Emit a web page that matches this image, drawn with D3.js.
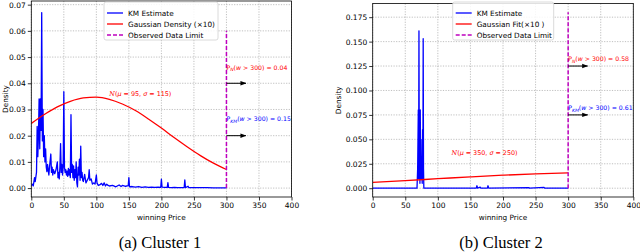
<!DOCTYPE html>
<html>
<head>
<meta charset="utf-8">
<script src="https://cdn.jsdelivr.net/npm/d3@7"></script>
<style>
  body { margin: 0; background: #fff; }
  text { font-family: "DejaVu Sans", sans-serif; }
</style>
</head>
<body>
<div id="chart"></div>
<script>
// ---- data ----
var priceTicks = [0, 50, 100, 150, 200, 250, 300, 350, 400];
var densityTicks1 = [0, 0.01, 0.02, 0.03, 0.04, 0.05, 0.06, 0.07];
var densityTicks2 = [0, 0.025, 0.05, 0.075, 0.1, 0.125, 0.15, 0.175];

// cluster 1, KM estimate
var kmPrice1 = [0, 2, 3, 5, 6, 8, 9, 10, 11, 12, 13, 14, 15, 16, 17, 18, 19, 20, 21, 22,
    23, 24, 25, 26, 27, 28, 30, 31, 32, 33, 34, 36, 38, 40, 41, 42, 43, 44, 45, 46,
    47, 48, 49, 50, 51, 52, 53, 54, 55, 56, 57, 58, 59, 60, 61, 62, 63, 64, 65, 66,
    67, 68, 69, 70, 71, 72, 73, 74, 75, 76, 77, 78, 79, 80, 82, 84, 86, 88, 89, 90,
    92, 94, 96, 98, 100, 101, 103, 105, 108, 110, 112, 114, 116, 118, 120, 125, 130, 135, 138, 140,
    145, 149, 150, 151, 155, 160, 165, 170, 175, 180, 185, 190, 195, 199, 200, 201, 205, 209, 210, 211,
    215, 220, 225, 230, 235, 236, 237, 241, 242, 250, 260, 270, 280, 290, 300];
var kmDensity1 = [0.0010, 0.0015, 0.0008, 0.0040, 0.0025, 0.0060, 0.0235, 0.0120, 0.0200, 0.0340, 0.0150, 0.0340, 0.0220, 0.0670, 0.0180, 0.0300, 0.0120, 0.0200, 0.0100, 0.0150,
    0.0080, 0.0063, 0.0090, 0.0070, 0.0050, 0.0080, 0.0130, 0.0060, 0.0080, 0.0050, 0.0070, 0.0055, 0.0070, 0.0100, 0.0040, 0.0060, 0.0035, 0.0080, 0.0170, 0.0060,
    0.0090, 0.0050, 0.0080, 0.0368, 0.0080, 0.0060, 0.0070, 0.0050, 0.0065, 0.0045, 0.0075, 0.0050, 0.0070, 0.0040, 0.0280, 0.0060, 0.0090, 0.0040, 0.0085, 0.0030,
    0.0070, 0.0040, 0.0100, 0.0020, 0.0005, 0.0080, 0.0050, 0.0110, 0.0030, 0.0160, 0.0040, 0.0060, 0.0030, 0.0025, 0.0052, 0.0020, 0.0030, 0.0040, 0.0070, 0.0030,
    0.0035, 0.0015, 0.0020, 0.0015, 0.0050, 0.0020, 0.0010, 0.0012, 0.0018, 0.0010, 0.0020, 0.0008, 0.0015, 0.0010, 0.0008, 0.0010, 0.0005, 0.0012, 0.0006, 0.0010,
    0.0007, 0.0009, 0.0040, 0.0005, 0.0006, 0.0004, 0.0006, 0.0003, 0.0005, 0.0003, 0.0004, 0.0003, 0.0004, 0.0003, 0.0034, 0.0004, 0.0003, 0.0003, 0.0021, 0.0003,
    0.0002, 0.0003, 0.0002, 0.0002, 0.0002, 0.0031, 0.0002, 0.0007, 0.0002, 0.0002, 0.0002, 0.0002, 0.0001, 0.0001, 0.0001];

// cluster 1, gaussian (x10)
var gaussPrice1 = [0, 20, 40, 60, 80, 100, 120, 140, 160, 180, 200, 220, 240, 260, 280, 300];
var gaussDensity1 = [0.0247, 0.0281, 0.0310, 0.0331, 0.0344, 0.0347, 0.0339, 0.0321, 0.0296, 0.0264,
    0.0229, 0.0192, 0.0157, 0.0124, 0.0095, 0.0071];

// cluster 2, KM estimate
var kmPrice2 = [0, 68, 69, 70, 70.5, 71, 71.5, 72, 72.5, 73, 73.5, 74, 74.5, 75, 76, 76.5, 77, 77.5, 78, 78.5,
    159, 160, 161, 165, 166, 176, 177, 178, 240, 241, 263, 264, 300];
var kmDensity2 = [0, 0, 0.02, 0.08, 0.01, 0.161, 0.03, 0.05, 0.005, 0.08, 0.02, 0.05, 0.01, 0.03, 0.005, 0.06, 0.01, 0.153, 0.02, 0,
    0, 0.0025, 0, 0.001, 0, 0, 0.0025, 0, 0.0005, 0, 0.0008, 0, 0];

// cluster 2, gaussian (x10)
var gaussPrice2 = [0, 50, 100, 150, 200, 250, 300];
var gaussDensity2 = [0.0060, 0.0078, 0.0097, 0.0116, 0.0133, 0.0147, 0.0156];

var limitPrice = 300;
var limitTop = [0.06, 0.18];
var probGauss = ["0.04", "0.58"];
var probKM = ["0.15", "0.61"];
var legendLabels1 = ["KM Estimate", "Gaussian Density (\u00d710)", "Observed Data Limit"];
var legendLabels2 = ["KM Estimate", "Gaussian Fit(\u00d710 )", "Observed Data Limit"];
var gaussLabels = [["95", "115"], ["350", "250"]];
var captions = ["(a) Cluster 1", "(b) Cluster 2"];

var svg = d3.select("#chart")
        .append("svg")
        .attr("width", 640)
        .attr("height", 252)
        .style("background-color", "#fff");

svg.append("defs").append("marker")
        .attr("id", "arrow")
        .attr("viewBox", "0 -3 6 6")
        .attr("refX", 5.5).attr("refY", 0)
        .attr("markerWidth", 6).attr("markerHeight", 6)
        .attr("markerUnits", "userSpaceOnUse")
        .attr("orient", "auto")
        .append("path")
        .attr("d", "M0,-2.2L6,0L0,2.2Z")
        .attr("fill", "#000");

var panels = [
    {left: 31.3, right: 291.5, top: 1, bottom: 197, yDomain: [-0.0034, 0.0714],
     yTicks: densityTicks1, yFmt: ".2f", km: [kmPrice1, kmDensity1], gauss: [gaussPrice1, gaussDensity1],
     limitTop: limitTop[0], legend: legendLabels1, legendX: 104, legendW: 114,
     gaussLabel: gaussLabels[0], gaussAt: [120, 0.0352],
     pG: probGauss[0], pGText: 0.0451, pGArrow: 0.04,
     pK: probKM[0], pKText: 0.0255, pKArrow: 0.02,
     ylabelX: 8, caption: captions[0], captionX: 160},
    {left: 372.7, right: 633.3, top: 3.5, bottom: 197, yDomain: [-0.009, 0.189],
     yTicks: densityTicks2, yFmt: ".3f", km: [kmPrice2, kmDensity2], gauss: [gaussPrice2, gaussDensity2],
     limitTop: limitTop[1], legend: legendLabels2, legendX: 452.7, legendW: 101,
     gaussLabel: gaussLabels[1], gaussAt: [121, 0.034],
     pG: probGauss[1], pGText: 0.130, pGArrow: 0.125,
     pK: probKM[1], pKText: 0.080, pKArrow: 0.075,
     ylabelX: 340.5, caption: captions[1], captionX: 501}
];

panels.forEach(function(p, i) { drawPanel(p, i); });

function drawPanel(p, i) {
    var x = d3.scaleLinear().domain([0, 400]).range([p.left, p.right]);
    var y = d3.scaleLinear().domain(p.yDomain).range([p.bottom, p.top]);
    var g = svg.append("g");

    g.append("clipPath").attr("id", "clip" + i)
            .append("rect")
            .attr("x", p.left).attr("y", p.top)
            .attr("width", p.right - p.left).attr("height", p.bottom - p.top);

    // grid
    var grid = g.append("g")
            .attr("stroke", "#b0b0b0")
            .attr("stroke-width", 0.8)
            .attr("stroke-dasharray", "1.2,1.4");
    grid.selectAll(".gx").data(priceTicks).enter().append("line")
            .attr("x1", d => x(d)).attr("x2", d => x(d))
            .attr("y1", p.top).attr("y2", p.bottom);
    grid.selectAll(".gy").data(p.yTicks).enter().append("line")
            .attr("x1", p.left).attr("x2", p.right)
            .attr("y1", d => y(d)).attr("y2", d => y(d));

    var plot = g.append("g").attr("clip-path", "url(#clip" + i + ")");

    // KM line
    var km = d3.zip(p.km[0], p.km[1]);
    plot.append("path")
            .datum(km)
            .attr("fill", "none")
            .attr("stroke", "#0000ff")
            .attr("stroke-width", 1.3)
            .attr("stroke-linejoin", "round")
            .attr("d", d3.line().x(d => x(d[0])).y(d => y(d[1])));

    // gaussian
    var gs = d3.zip(p.gauss[0], p.gauss[1]);
    plot.append("path")
            .datum(gs)
            .attr("fill", "none")
            .attr("stroke", "#ff0000")
            .attr("stroke-width", 1.3)
            .attr("d", d3.line().curve(d3.curveMonotoneX).x(d => x(d[0])).y(d => y(d[1])));

    // observed limit
    plot.append("line")
            .attr("x1", x(limitPrice)).attr("x2", x(limitPrice))
            .attr("y1", y(0)).attr("y2", y(p.limitTop))
            .attr("stroke", "#bf00bf")
            .attr("stroke-width", 1.5)
            .attr("stroke-dasharray", "4,2");

    // arrows + annotations
    [[p.pGArrow, p.pGText, "#ff0000", "\ud835\udca9", p.pG],
     [p.pKArrow, p.pKText, "#0000ff", "KM", p.pK]].forEach(function(a) {
        g.append("line")
                .attr("x1", x(limitPrice)).attr("x2", x(330))
                .attr("y1", y(a[0])).attr("y2", y(a[0]))
                .attr("stroke", "#000")
                .attr("stroke-width", 1)
                .attr("marker-end", "url(#arrow)");
        var t = g.append("text")
                .attr("x", x(limitPrice)).attr("y", y(a[1]))
                .attr("fill", a[2])
                .style("font-size", "6.2px");
        t.append("tspan").text("P");
        t.append("tspan").attr("dy", 1.5).style("font-size", "4.6px")
                .style("font-style", "italic").text(a[3] == "KM" ? "KM" : "N");
        t.append("tspan").attr("dy", -1.5).text("(");
        t.append("tspan").style("font-style", "italic").text("w");
        t.append("tspan").text(" > 300) = " + a[4]);
    });

    // gaussian label
    var gl = g.append("text")
            .attr("x", x(p.gaussAt[0])).attr("y", y(p.gaussAt[1]))
            .attr("fill", "#ff0000")
            .style("font-size", "6.4px");
    gl.append("tspan").style("font-style", "italic").style("font-family", "DejaVu Serif").text("N");
    gl.append("tspan").text("(");
    gl.append("tspan").style("font-style", "italic").text("\u03bc");
    gl.append("tspan").text(" = " + p.gaussLabel[0] + ",  ");
    gl.append("tspan").style("font-style", "italic").text("\u03c3");
    gl.append("tspan").text(" = " + p.gaussLabel[1] + ")");

    // axes
    var xAxis = g.append("g")
            .attr("transform", "translate(0," + p.bottom + ")")
            .call(d3.axisBottom(x).tickValues(priceTicks).tickSize(3.5).tickPadding(2).tickFormat(d3.format("d")));
    var yAxis = g.append("g")
            .attr("transform", "translate(" + p.left + ",0)")
            .call(d3.axisLeft(y).tickValues(p.yTicks).tickSize(3.5).tickPadding(2).tickFormat(d3.format(p.yFmt)));
    [xAxis, yAxis].forEach(function(ax) {
        ax.select(".domain").remove();
        ax.selectAll("line").attr("stroke", "#000").attr("stroke-width", 0.8);
        ax.selectAll("text").attr("fill", "#000")
                .style("font-size", "7.5px")
                .style("font-family", "DejaVu Sans");
    });

    // frame
    g.append("rect")
            .attr("x", p.left).attr("y", p.top)
            .attr("width", p.right - p.left).attr("height", p.bottom - p.top)
            .attr("fill", "none")
            .attr("stroke", "#000")
            .attr("stroke-width", 0.8);

    // labels
    g.append("text")
            .attr("x", (p.left + p.right) / 2).attr("y", 219.5)
            .attr("text-anchor", "middle")
            .style("font-size", "7.3px")
            .text("winning Price");
    g.append("text")
            .attr("transform", "translate(" + p.ylabelX + "," + ((p.top + p.bottom) / 2) + ") rotate(-90)")
            .attr("text-anchor", "middle")
            .style("font-size", "7.3px")
            .text("Density");
    g.append("text")
            .attr("x", p.captionX).attr("y", 248)
            .attr("text-anchor", "middle")
            .style("font-family", "Liberation Serif")
            .style("font-size", "16.5px")
            .text(p.caption);

    // legend
    var lg = g.append("g");
    lg.append("rect")
            .attr("x", p.legendX).attr("y", 2)
            .attr("width", p.legendW).attr("height", 38)
            .attr("rx", 2)
            .attr("fill", "#fff").attr("fill-opacity", 0.85)
            .attr("stroke", "#d0d0d0").attr("stroke-width", 0.8);
    var styles = [["#0000ff", null], ["#ff0000", null], ["#bf00bf", "4,2"]];
    p.legend.forEach(function(lab, k) {
        var ly = 13 + k * 11;
        lg.append("line")
                .attr("x1", p.legendX + 3).attr("x2", p.legendX + 19)
                .attr("y1", ly).attr("y2", ly)
                .attr("stroke", styles[k][0])
                .attr("stroke-width", 1.3)
                .attr("stroke-dasharray", styles[k][1]);
        lg.append("text")
                .attr("x", p.legendX + 24).attr("y", ly + 2.6)
                .style("font-size", "7.3px")
                .text(lab);
    });
}
</script>
</body>
</html>
